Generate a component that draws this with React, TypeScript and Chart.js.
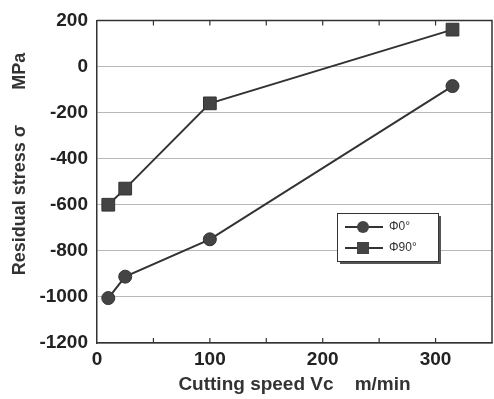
import React, { useEffect, useRef } from "react";
import { Chart, registerables } from "chart.js";

Chart.register(...registerables);

const speedsPhi0 = [10, 25, 100, 315];
const stressPhi0 = [-1005, -912, -750, -85];
const speedsPhi90 = [10, 25, 100, 315];
const stressPhi90 = [-600, -530, -160, 160];
const seriesLabels = ["\u03A60\u00B0", "\u03A690\u00B0"];
const xTickValues = [0, 100, 200, 300];
const xMinorTicks = [50, 100, 150, 200, 250, 300];
const yRange = [-1200, 200];
const xRange = [0, 350];
const yTitle = "Residual stress \u03C3       MPa";
const xTitle = "Cutting speed Vc    m/min";

const INK = "#333333";
const FONT = "'Liberation Sans', Arial, sans-serif";

const framePlugin = {
  id: "frame",
  afterDraw(chart: any) {
    const { ctx, chartArea } = chart;
    const xs = chart.scales.x;
    ctx.save();
    ctx.strokeStyle = INK;
    ctx.lineWidth = 1.5;
    ctx.beginPath();
    ctx.moveTo(chartArea.left, chartArea.top);
    ctx.lineTo(chartArea.right, chartArea.top);
    ctx.lineTo(chartArea.right, chartArea.bottom);
    ctx.stroke();
    ctx.lineWidth = 1.2;
    for (const v of xMinorTicks) {
      const px = xs.getPixelForValue(v);
      ctx.beginPath();
      ctx.moveTo(px, chartArea.bottom);
      ctx.lineTo(px, chartArea.bottom - 5);
      ctx.moveTo(px, chartArea.top);
      ctx.lineTo(px, chartArea.top + 5);
      ctx.stroke();
    }
    // y title
    ctx.save();
    ctx.translate(20, 164);
    ctx.rotate(-Math.PI / 2);
    ctx.fillStyle = INK;
    ctx.font = `bold 18px ${FONT}`;
    ctx.textAlign = "center";
    ctx.textBaseline = "middle";
    ctx.fillText(yTitle, 0, 0);
    ctx.restore();
    // legend box
    const bx = 337, by = 213, bw = 101, bh = 48;
    ctx.fillStyle = "#555";
    ctx.fillRect(bx + 3, by + 3, bw, bh);
    ctx.fillStyle = "#ffffff";
    ctx.fillRect(bx, by, bw, bh);
    ctx.strokeStyle = INK;
    ctx.lineWidth = 1;
    ctx.strokeRect(bx + 0.5, by + 0.5, bw, bh);
    chart.data.datasets.forEach((ds: any, i: number) => {
      const y = by + 14 + i * 21;
      ctx.strokeStyle = INK;
      ctx.lineWidth = 2;
      ctx.beginPath();
      ctx.moveTo(bx + 8, y);
      ctx.lineTo(bx + 46, y);
      ctx.stroke();
      ctx.fillStyle = "#444";
      if (ds.pointStyle === "circle") {
        ctx.beginPath();
        ctx.arc(bx + 26, y, 6, 0, Math.PI * 2);
        ctx.fill();
      } else {
        ctx.fillRect(bx + 20, y - 6, 12, 12);
      }
      ctx.fillStyle = INK;
      ctx.font = `12px ${FONT}`;
      ctx.textBaseline = "middle";
      ctx.textAlign = "left";
      ctx.fillText(ds.label, bx + 52, y);
    });
    ctx.restore();
  },
};

export default function App() {
  const ref = useRef<HTMLCanvasElement>(null);
  useEffect(() => {
    document.body.style.margin = "0";
    const chart = new Chart(ref.current!, {
      type: "line",
      data: {
        datasets: [
          {
            label: seriesLabels[0],
            data: speedsPhi0.map((x, i) => ({ x, y: stressPhi0[i] })),
            borderColor: INK,
            borderWidth: 2,
            pointStyle: "circle",
            pointRadius: 6.5,
            pointBackgroundColor: "#444",
            pointBorderColor: "#333",
            pointBorderWidth: 1,
          },
          {
            label: seriesLabels[1],
            data: speedsPhi90.map((x, i) => ({ x, y: stressPhi90[i] })),
            borderColor: INK,
            borderWidth: 2,
            pointStyle: "rect",
            pointRadius: 9,
            pointBackgroundColor: "#444",
            pointBorderColor: "#333",
            pointBorderWidth: 1,
          },
        ],
      },
      options: {
        responsive: false,
        animation: false,
        layout: { autoPadding: false, padding: { top: 18, right: 2, left: 0, bottom: 0 } },
        plugins: { legend: { display: false }, tooltip: { enabled: false } },
        scales: {
          x: {
            type: "linear",
            min: xRange[0],
            max: xRange[1],
            afterBuildTicks: (s: any) => {
              s.ticks = xTickValues.map((v) => ({ value: v }));
            },
            afterFit: (s: any) => {
              s.height = 56;
              s.paddingLeft = 0;
              s.paddingRight = 0;
            },
            grid: { display: false, drawTicks: false },
            border: { color: INK, width: 1.5 },
            ticks: {
              padding: 5,
              color: "#222",
              font: { family: FONT, size: 19, weight: "bold" },
              maxRotation: 0,
              callback: (v: any) => String(v),
            },
            title: {
              display: true,
              text: xTitle,
              color: INK,
              font: { family: FONT, size: 19, weight: "bold" },
              padding: { top: 0, bottom: 3 },
            },
          },
          y: {
            min: yRange[0],
            max: yRange[1],
            ticks: {
              stepSize: 200,
              padding: 9,
              color: "#222",
              font: { family: FONT, size: 19, weight: "bold" },
              callback: (v: any) => String(v),
            },
            afterFit: (s: any) => {
              s.width = 97;
            },
            grid: { color: "#b8b8b8", lineWidth: 1, drawTicks: false },
            border: { color: INK, width: 1.5 },
            title: { display: false },
          },
        },
      },
      plugins: [framePlugin],
    });
    return () => chart.destroy();
  }, []);
  return (
    <div style={{ width: 494, height: 399 }}>
      <canvas ref={ref} width={494} height={399} />
    </div>
  );
}
